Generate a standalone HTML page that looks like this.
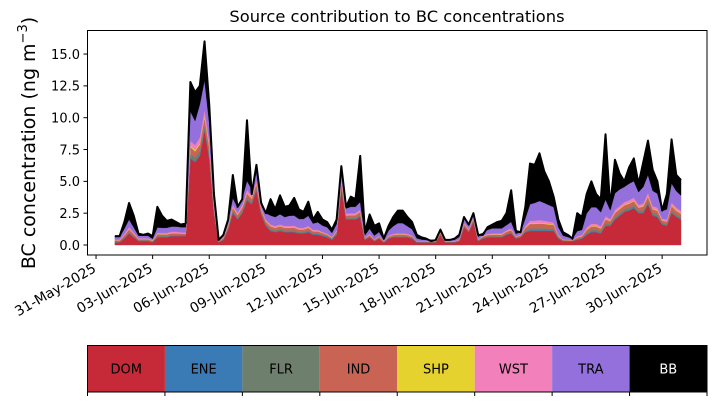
<!DOCTYPE html>
<html><head><meta charset="utf-8"><style>
body{margin:0;background:#fff;width:717px;height:402px;overflow:hidden;font-family:"DejaVu Sans","Liberation Sans",sans-serif}
svg{display:block}
</style></head><body>
<svg id="chart" width="717" height="402" viewBox="0 0 717 402" xmlns="http://www.w3.org/2000/svg" font-family="DejaVu Sans, Liberation Sans, sans-serif">
<text x="397" y="22" text-anchor="middle" font-size="16.3" fill="#000">Source contribution to BC concentrations</text>
<text transform="translate(35,143) rotate(-90)" text-anchor="middle" font-size="19" fill="#000">BC concentration (ng m<tspan dy="-8" font-size="13">−3</tspan><tspan dy="8">)</tspan></text>
<g id="areas"></g>
<g id="yaxis"></g>
<g id="xaxis"></g>
<rect x="87.5" y="30.5" width="619.5" height="224.5" fill="none" stroke="#000" stroke-width="1"/>
<g id="legend"></g>
</svg>
<script>
const sources = ["DOM","ENE","FLR","IND","SHP","WST","TRA","BB"];
const colors = ["#c62a38","#3a7ab5","#6f7f6d","#c96454","#e6d22e","#f280bb","#9370db","#000000"];
const yTicks = [0,2.5,5,7.5,10,12.5,15];
const xTickLabels = ["31-May-2025","03-Jun-2025","06-Jun-2025","09-Jun-2025","12-Jun-2025","15-Jun-2025","18-Jun-2025","21-Jun-2025","24-Jun-2025","27-Jun-2025","30-Jun-2025"];
const xTickDays = [-1,2,5,8,11,14,17,20,23,26,29];
const total = [0.7,0.7,1.8,3.3,2.3,0.9,0.8,0.9,0.7,3.0,
2.3,1.9,2.0,1.8,1.6,1.7,12.8,12.0,12.5,16.0,
11.0,4.0,0.4,0.8,2.0,5.5,3.0,3.6,9.8,4.0,
6.3,3.3,2.5,3.6,2.8,3.9,3.0,3.1,3.7,2.8,
2.6,3.4,2.0,2.6,2.0,1.8,1.2,2.0,6.2,3.0,
3.8,3.6,7.0,1.0,2.4,1.5,1.7,0.5,1.5,2.2,
2.7,2.7,2.2,1.8,0.8,0.6,0.5,0.3,0.4,1.2,
0.4,0.4,0.5,0.8,2.2,1.6,2.5,0.8,0.8,1.4,
1.6,1.8,1.9,2.5,4.3,1.1,1.0,3.0,6.4,6.3,
7.2,5.8,5.0,3.8,2.0,1.0,0.8,0.5,2.5,2.2,
4.0,5.0,4.0,3.6,8.7,3.0,6.7,5.6,5.0,6.1,
6.8,4.8,6.5,8.2,5.9,5.0,2.7,4.0,8.3,5.5,5.1];
const dom = [0.2,0.2,0.5,0.9,0.6,0.3,0.3,0.3,0.2,0.6,
0.6,0.6,0.7,0.7,0.7,0.7,6.8,6.5,7.0,9.0,
6.8,2.5,0.2,0.4,1.2,2.5,2.0,2.5,3.5,3.2,
4.3,2.4,1.5,1.1,1.0,1.1,1.0,1.0,1.0,0.9,
0.9,1.0,0.8,0.8,0.7,0.6,0.4,0.8,4.5,2.0,
2.0,2.0,2.2,0.4,0.6,0.3,0.5,0.2,0.5,0.6,
0.6,0.6,0.6,0.5,0.2,0.2,0.2,0.2,0.2,0.8,
0.2,0.2,0.2,0.3,1.4,1.0,1.8,0.3,0.5,0.6,
0.6,0.6,0.6,0.8,0.9,0.5,0.6,1.0,1.1,1.1,
1.1,1.1,1.1,1.1,0.5,0.3,0.3,0.3,0.4,0.5,
0.8,1.0,1.0,0.9,1.5,1.5,2.0,2.3,2.6,2.7,
2.9,2.5,2.5,3.2,2.3,2.2,1.6,1.5,2.5,2.2,2.0];
const ene = [.03,.03,.03,.03,.03,.03,.03,.03,.03,.03,
.03,.03,.03,.03,.03,.03,.1,.1,.1,.1,
.1,.05,.02,.02,.03,.05,.04,.05,.06,.05,
.05,.05,.05,.05,.05,.05,.05,.05,.05,.05,
.05,.05,.05,.05,.05,.05,.05,.05,.06,.04,
.05,.05,.06,.02,.03,.02,.03,.02,.03,.03,
.03,.03,.03,.03,.02,.02,.02,.02,.02,.02,
.02,.02,.02,.02,.04,.03,.04,.02,.03,.03,
.03,.03,.03,.03,.03,.03,.03,.04,.06,.06,
.06,.06,.05,.05,.03,.02,.02,.02,.03,.03,
.05,.06,.06,.05,.06,.05,.06,.06,.06,.06,
.06,.05,.06,.07,.06,.06,.04,.04,.07,.06,.06];
const flr = [.05,.05,.08,.1,.08,.05,.05,.05,.04,.08,
.08,.08,.08,.08,.07,.07,.3,.3,.3,.35,
.3,.12,.03,.05,.1,.15,.12,.15,.18,.15,
.18,.12,.1,.1,.1,.1,.1,.1,.1,.09,
.09,.1,.08,.08,.07,.06,.05,.08,.18,.1,
.1,.1,.12,.04,.06,.03,.05,.02,.05,.06,
.07,.07,.06,.05,.03,.03,.02,.02,.02,.06,
.02,.02,.02,.03,.08,.06,.1,.03,.05,.06,
.06,.06,.06,.07,.08,.04,.05,.1,.15,.15,
.15,.15,.14,.13,.06,.03,.03,.02,.06,.06,
.12,.14,.14,.12,.16,.12,.16,.16,.16,.17,
.17,.14,.16,.18,.15,.15,.1,.1,.17,.15,.14];
const ind = [.08,.08,.15,.2,.15,.08,.08,.08,.06,.15,
.12,.12,.12,.12,.1,.1,.5,.45,.5,.6,
.5,.2,.04,.08,.15,.25,.2,.25,.3,.25,
.3,.22,.2,.22,.2,.22,.2,.2,.22,.18,
.18,.2,.15,.15,.12,.1,.08,.12,.3,.18,
.2,.2,.22,.06,.1,.05,.08,.03,.08,.1,
.12,.12,.1,.08,.04,.04,.03,.03,.03,.1,
.03,.03,.04,.05,.12,.1,.15,.05,.08,.1,
.12,.12,.12,.14,.16,.06,.08,.2,.35,.35,
.38,.35,.32,.3,.12,.05,.04,.03,.1,.1,
.22,.25,.25,.22,.3,.2,.3,.3,.3,.32,
.32,.25,.3,.35,.3,.28,.18,.2,.32,.28,.26];
const shp = [.02,.02,.02,.02,.02,.02,.02,.02,.02,.02,
.02,.02,.02,.02,.02,.02,.1,.1,.1,.1,
.1,.04,.01,.01,.02,.03,.03,.03,.04,.03,
.04,.03,.03,.03,.03,.03,.03,.03,.03,.03,
.03,.03,.03,.03,.02,.02,.02,.02,.04,.03,
.03,.03,.03,.01,.02,.01,.02,.01,.02,.02,
.02,.02,.02,.02,.01,.01,.01,.01,.01,.02,
.01,.01,.01,.01,.02,.02,.02,.01,.02,.02,
.02,.02,.02,.02,.03,.01,.02,.03,.05,.05,
.05,.05,.05,.04,.02,.01,.01,.01,.02,.02,
.04,.04,.04,.04,.05,.03,.05,.05,.05,.05,
.05,.04,.05,.06,.05,.05,.03,.03,.06,.05,.05];
const wst = [.05,.05,.1,.15,.1,.05,.05,.05,.04,.1,
.1,.1,.1,.1,.08,.08,.4,.4,.45,.5,
.4,.15,.03,.05,.1,.2,.15,.2,.25,.2,
.25,.15,.12,.12,.12,.12,.12,.12,.12,.1,
.1,.12,.08,.08,.07,.06,.05,.08,.25,.12,
.12,.12,.15,.04,.07,.03,.05,.02,.05,.07,
.08,.08,.07,.06,.03,.03,.02,.02,.02,.08,
.02,.02,.02,.03,.1,.07,.12,.03,.06,.08,
.08,.08,.08,.1,.12,.04,.06,.12,.2,.2,
.22,.2,.18,.16,.07,.03,.03,.02,.08,.08,
.15,.18,.18,.15,.2,.14,.2,.2,.2,.22,
.22,.18,.2,.25,.2,.2,.12,.14,.22,.2,.18];
const tra = [0.2,0.2,0.4,0.6,0.4,0.2,0.2,0.2,0.1,0.4,
0.4,0.4,0.4,0.4,0.4,0.4,2.3,1.9,2.6,2.3,
1.4,0.6,0.1,0.2,0.3,0.5,0.4,0.5,0.7,0.5,
0.6,0.5,0.5,0.7,0.7,0.8,0.7,0.8,0.8,0.7,
0.7,0.8,0.5,0.6,0.5,0.5,0.3,0.5,0.6,0.4,
0.5,0.5,0.6,0.2,0.4,0.3,0.3,0.1,0.4,0.6,
0.8,0.8,0.6,0.5,0.2,0.1,0.1,0.1,0.1,0.2,
0.1,0.1,0.1,0.2,0.3,0.3,0.3,0.2,0.2,0.3,
0.4,0.4,0.4,0.4,0.5,0.2,0.2,0.6,1.3,1.4,
1.5,1.4,1.3,1.2,0.6,0.3,0.2,0.1,0.4,0.4,
1.1,1.3,1.3,1.1,1.3,0.7,1.3,1.3,1.2,1.3,
1.3,1.0,1.3,1.4,1.2,1.1,0.6,0.8,1.5,1.3,1.2];
const stepHours = 6; // samples every 6 h starting 01-Jun-2025 00:00

const NS = "http://www.w3.org/2000/svg";
const X0 = 114.9, PXDAY = 18.87;
function xScale(dayOffset){ return X0 + dayOffset*PXDAY; }
function yScale(v){ return 245 - v*12.73; }
function mk(tag, attrs, parent){ const e=document.createElementNS(NS,tag); for(const k in attrs) e.setAttribute(k,attrs[k]); parent.appendChild(e); return e; }

const n = total.length;
const layers = [dom,ene,flr,ind,shp,wst,tra];
const bb = total.map((t,i)=>{ let s=0; layers.forEach(l=>s+=l[i]); return Math.max(0,t-s); });
layers.push(bb);
const areasG = document.getElementById('areas');
let lower = new Array(n).fill(0);
layers.forEach((layer,li)=>{
  const upper = lower.map((v,i)=>v+layer[i]);
  let d = "";
  for(let i=0;i<n;i++){ d += (i?"L":"M")+xScale(i*stepHours/24).toFixed(2)+","+yScale(upper[i]).toFixed(2); }
  for(let i=n-1;i>=0;i--){ d += "L"+xScale(i*stepHours/24).toFixed(2)+","+yScale(lower[i]).toFixed(2); }
  d += "Z";
  const p = mk('path',{d:d,fill:colors[li],stroke:colors[li],'stroke-width':0.4},areasG);
  
  
  lower = upper;
});
let ld = "";
for(let i=0;i<n;i++){ ld += (i?"L":"M")+xScale(i*stepHours/24).toFixed(2)+","+yScale(total[i]).toFixed(2); }
const tl = mk('path',{d:ld,fill:'none',stroke:'#000','stroke-width':2,'stroke-linejoin':'round'},areasG);



const yG = document.getElementById('yaxis');
yTicks.forEach(v=>{
  const y = yScale(v);
  const t = mk('line',{x1:83.5,x2:87.5,y1:y,y2:y,stroke:'#000','stroke-width':1},yG);
  
  
  const l = mk('text',{x:80,y:y+4.8,'text-anchor':'end','font-size':13,fill:'#000'},yG);
  l.textContent = v.toFixed(1);
  
  
});
const xG = document.getElementById('xaxis');
xTickDays.forEach((d,i)=>{
  const x = xScale(d);
  const t = mk('line',{x1:x,x2:x,y1:255,y2:259,stroke:'#000','stroke-width':1},xG);
  
  
  const l = mk('text',{transform:`translate(${x+1},${271}) rotate(-30)`,'text-anchor':'end','font-size':13.8,fill:'#000'},xG);
  l.textContent = xTickLabels[i];
  
  
});

const lg = document.getElementById('legend');
const LX0=87.5, LX1=707, LY=345.5, LH=46.5, cw=(LX1-LX0)/sources.length;
sources.forEach((s,i)=>{
  const r = mk('rect',{x:LX0+i*cw,y:LY,width:cw,height:LH,fill:colors[i]},lg);
  
  
  const t = mk('text',{x:LX0+(i+0.5)*cw,y:LY+LH/2+4.5,'text-anchor':'middle','font-size':13,fill:i===7?'#fff':'#000'},lg);
  t.textContent = s;
  
  
});
for(let i=0;i<=sources.length;i++){
  const x = LX0+i*cw;
  const t = mk('line',{x1:x,x2:x,y1:LY+LH,y2:LY+LH+4,stroke:'#000','stroke-width':1},lg);
  
  
}
const fr = mk('rect',{x:LX0,y:LY,width:LX1-LX0,height:LH,fill:'none',stroke:'#000','stroke-width':1},lg);


</script>
</body></html>
